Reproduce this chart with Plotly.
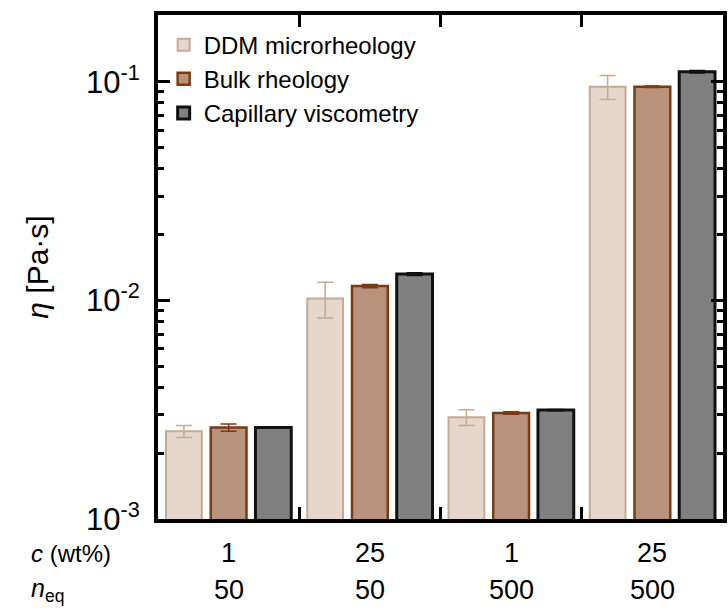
import plotly.graph_objects as go

c_wt = ["1", "25", "1", "25"]
n_eq = ["50", "50", "500", "500"]
categories = [f"{c}|{n}" for c, n in zip(c_wt, n_eq)]

series_names = ["DDM microrheology", "Bulk rheology", "Capillary viscometry"]
ddm = [0.00252, 0.0102, 0.00292, 0.0948]
ddm_err = [0.00016, 0.0019, 0.00024, 0.012]
bulk = [0.00262, 0.01162, 0.00305, 0.0948]
bulk_err = [0.0001, 0.0002, 0.00004, 0.0008]
cap = [0.00262, 0.01318, 0.00315, 0.111]
cap_err = [0.00002, 0.0002, 0.00002, 0.0015]

major_vals = [1e-3, 1e-2, 1e-1]
major_text = ["10<sup>-3</sup>", "10<sup>-2</sup>", "10<sup>-1</sup>"]
minor_vals = [k * 1e-3 for k in range(2, 10)] + [k * 1e-2 for k in range(2, 10)]

fills = ["#e5d7cc", "#b8927b", "#808080"]
borders = ["#c7a892", "#7b3b12", "#111111"]
widths = [2, 2.5, 3]

FONT = "Liberation Sans, Arial, Helvetica, sans-serif"
LBL = 27

fig = go.Figure()
for name, vals, errs, fc, bc, lw in zip(series_names, [ddm, bulk, cap], [ddm_err, bulk_err, cap_err],
                                        fills, borders, widths):
    fig.add_trace(go.Bar(
        x=categories, y=vals, name=name,
        marker=dict(color=fc, line=dict(color=bc, width=lw)),
        error_y=dict(type="data", array=errs, visible=True, color=bc, thickness=1.5, width=8),
    ))

annotations = []
for cat, c, n in zip(categories, c_wt, n_eq):
    annotations.append(dict(x=cat, xref="x", y=-0.0675, yref="paper", text=c, showarrow=False,
                            font=dict(size=LBL, color="black", family=FONT), yanchor="middle"))
    annotations.append(dict(x=cat, xref="x", y=-0.141, yref="paper", text=n, showarrow=False,
                            font=dict(size=LBL, color="black", family=FONT), yanchor="middle"))
annotations.append(dict(x=-0.229, xref="paper", y=-0.0675, yref="paper", text="<i>c</i> (wt%)",
                        showarrow=False, xanchor="left", yanchor="middle",
                        font=dict(size=24, color="black", family=FONT)))
annotations.append(dict(x=-0.229, xref="paper", y=-0.141, yref="paper", text="<i>n</i><sub>eq</sub>",
                        showarrow=False, xanchor="left", yanchor="middle",
                        font=dict(size=25, color="black", family=FONT)))

fig.update_layout(
    width=728, height=610,
    margin=dict(l=158, r=1, t=15, b=91),
    paper_bgcolor="white", plot_bgcolor="white",
    barmode="group", bargap=0.05, bargroupgap=0.2,
    font=dict(family=FONT, color="black"),
    showlegend=True,
    legend=dict(x=0.01, y=0.985, xanchor="left", yanchor="top", bgcolor="rgba(0,0,0,0)",
                font=dict(size=24, color="black", family=FONT), tracegroupgap=0, itemwidth=30),
    annotations=annotations,
    xaxis=dict(
        type="category", categoryorder="array", categoryarray=categories,
        tickson="boundaries", ticks="inside", ticklen=12, tickwidth=3, tickcolor="black",
        showticklabels=False, showline=True, linewidth=4, linecolor="black",
        mirror="allticks", showgrid=False, zeroline=False,
    ),
    yaxis=dict(
        type="log", range=[-3, -0.695],
        tickvals=major_vals, ticktext=major_text,
        ticks="inside", ticklen=12, tickwidth=3, tickcolor="black",
        tickfont=dict(size=31, color="black", family=FONT), ticklabelstandoff=8,
        minor=dict(tickvals=minor_vals, ticks="inside", ticklen=6, tickwidth=3, tickcolor="black",
                   showgrid=False),
        showline=True, linewidth=4, linecolor="black", mirror="allticks",
        showgrid=False, zeroline=False,
        title=dict(text="\u00a0\u00a0\u00a0\u00a0<i>η</i> [Pa·s]",
                   font=dict(size=30, color="black", family=FONT), standoff=30),
    ),
)

fig.write_html(
    "out.html",
    config={"displayModeBar": False},
    post_script="document.body.style.margin='0';document.body.style.overflow='hidden';",
)
